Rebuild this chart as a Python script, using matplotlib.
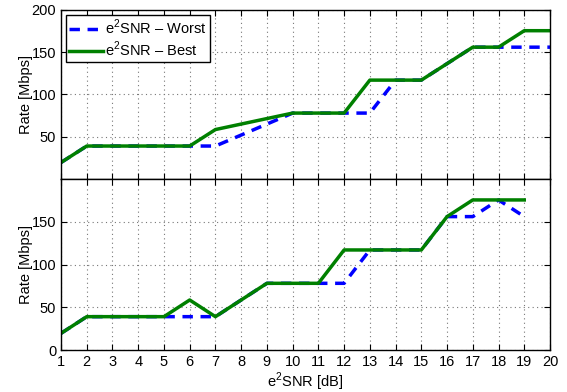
import matplotlib
matplotlib.use('Agg')
import matplotlib.pyplot as plt

plt.rcParams['font.family'] = ['Liberation Sans', 'DejaVu Sans']
plt.rcParams['mathtext.fontset'] = 'custom'
plt.rcParams['mathtext.rm'] = 'Liberation Sans'

# e2SNR in dB
snr_top = list(range(1, 21))
snr_bot = list(range(1, 20))

# top panel
worst_top = [19.5, 39, 39, 39, 39, 39, 39, 52, 65, 78, 78, 78, 78, 117, 117, 136.5, 156, 156, 156, 156]
best_top = [19.5, 39, 39, 39, 39, 39, 58.5, 65, 71.5, 78, 78, 78, 117, 117, 117, 136.5, 156, 156, 175.5, 175.5]

# bottom panel
worst_bot = [19.5, 39, 39, 39, 39, 39, 39, 58.5, 78, 78, 78, 78, 117, 117, 117, 156, 156, 175.5, 156]
best_bot = [19.5, 39, 39, 39, 39, 58.5, 39, 58.5, 78, 78, 78, 117, 117, 117, 117, 156, 175.5, 175.5, 175.5]

blue = '#0000ff'
green = '#008000'

fig = plt.figure(figsize=(5.67, 3.92), dpi=100)
ax1 = fig.add_axes([0.1076, 0.5434, 0.8624, 0.4311])
ax2 = fig.add_axes([0.1076, 0.1071, 0.8624, 0.4363])

for ax, x, w, b in [(ax1, snr_top, worst_top, best_top), (ax2, snr_bot, worst_bot, best_bot)]:
    ax.plot(x, w, '--', color=blue, lw=2.5, dashes=(3, 2.2), label='e$^2$SNR – Worst')
    ax.plot(x, b, '-', color=green, lw=2.5, label='e$^2$SNR – Best')
    ax.set_xlim(1, 20)
    ax.set_ylim(0, 200)
    ax.set_xticks(range(1, 21))
    ax.grid(True, ls=(0, (1, 3)), lw=0.8, color='#777777')
    ax.tick_params(direction='in', top=True, right=True, labelsize=10.5, length=4)
    ax.set_ylabel('Rate [Mbps]', fontsize=10.5, labelpad=-1)
    for s in ax.spines.values():
        s.set_linewidth(1.0)

ax1.set_yticks([50, 100, 150, 200])
ax1.tick_params(labelbottom=False)
ax2.set_yticks([0, 50, 100, 150])
ax2.set_xlabel('e$^2$SNR [dB]', fontsize=10.5, labelpad=1)

leg = ax1.legend(loc='upper left', fontsize=10.5, fancybox=False, framealpha=1,
                 edgecolor='black', borderaxespad=0.35, handlelength=2.3,
                 handletextpad=0.2, labelspacing=0.15, borderpad=0.2)
leg.get_frame().set_linewidth(1.0)

fig.savefig('out.png', dpi=100)
